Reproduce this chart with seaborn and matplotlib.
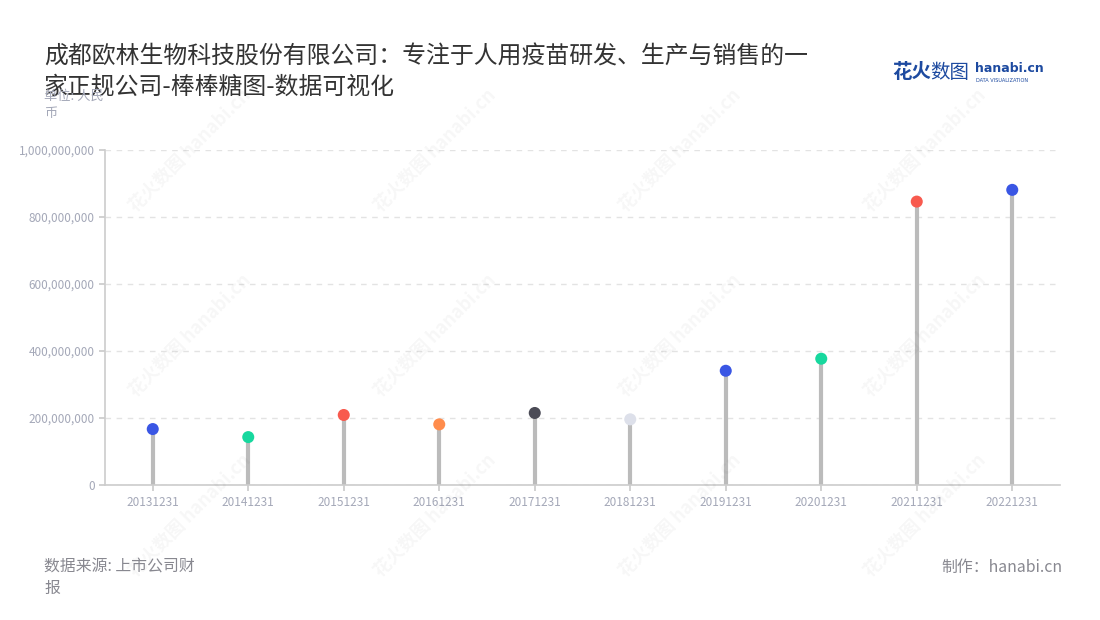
import matplotlib
matplotlib.use("Agg")
import matplotlib.pyplot as plt
import seaborn as sns
import pandas as pd

# 数据（单位：人民币）
dates = ["20131231", "20141231", "20151231", "20161231", "20171231",
         "20181231", "20191231", "20201231", "20211231", "20221231"]
values = [167e6, 143e6, 209e6, 181e6, 215e6,
          196e6, 341e6, 377e6, 846e6, 881e6]
dot_colors = ["#3a56e4", "#17d89e", "#f85a4e", "#ff8c4c", "#4b4b56",
              "#dde0ea", "#3a56e4", "#17d89e", "#f85a4e", "#3a56e4"]
y_ticks = [0, 200e6, 400e6, 600e6, 800e6, 1000e6]

title = "成都欧林生物科技股份有限公司：专注于人用疫苗研发、生产与销售的一\n家正规公司-棒棒糖图-数据可视化"

sns.set_theme(style="white")
plt.rcParams["font.family"] = ["Noto Sans CJK SC", "DejaVu Sans"]

df = pd.DataFrame({"date": dates, "value": values})

fig = plt.figure(figsize=(11, 6.2), dpi=100, facecolor="white")
ax = fig.add_axes([105 / 1100, 1 - 485 / 620, 955 / 1100, 335 / 620])

# 水印
for wx in [190, 435, 680, 925]:
    for wy in [150, 335, 515]:
        fig.text(wx / 1100, 1 - wy / 620, "花火数图 hanabi.cn", rotation=45,
                 fontsize=13, color="#000000", alpha=0.035,
                 ha="center", va="center", fontweight="bold", zorder=0)

# 棒
ax.vlines(range(len(dates)), 0, df["value"], color="#bbbbbb", linewidth=3, zorder=2)
# 糖
sns.scatterplot(data=df, x="date", y="value", hue="date", palette=dot_colors,
                s=75, edgecolor="none", legend=False, ax=ax, zorder=3)

ax.set_xlim(-0.5, len(dates) - 0.5)
ax.set_ylim(0, 1e9)
ax.set_yticks(y_ticks)
ax.set_yticklabels([f"{int(v):,}" for v in y_ticks])
ax.set_xlabel("")
ax.set_ylabel("")
ax.yaxis.grid(True, color="#e3e3e3", linestyle=(0, (4, 4)), linewidth=1)
ax.set_axisbelow(True)
ax.patch.set_alpha(0)

for s in ["top", "right"]:
    ax.spines[s].set_visible(False)
for s in ["left", "bottom"]:
    ax.spines[s].set_color("#cccccc")
    ax.spines[s].set_linewidth(1.2)
ax.tick_params(axis="both", length=4, color="#cccccc", labelsize=8.5,
               labelcolor="#a4a8b8", left=True, bottom=True)
ax.tick_params(axis="x", pad=4)

fig.text(44 / 1100, 1 - 72 / 620, title, fontsize=17.2, color="#333333",
         va="center", linespacing=1.42)
fig.text(44 / 1100, 1 - 105 / 620, "单位: 人民\n币", fontsize=9.5, color="#a4a8b8",
         va="center", linespacing=1.4)

# logo
fig.text(892 / 1100, 1 - 73 / 620, "花火", fontsize=14, color="#1d4aa0",
         fontweight="bold", va="center")
fig.text(930 / 1100, 1 - 73 / 620, "数图", fontsize=14, color="#1d4aa0", va="center")
fig.text(975 / 1100, 1 - 69 / 620, "hanabi.cn", fontsize=9, color="#1d4aa0",
         fontweight="bold", va="center", family="DejaVu Sans")
fig.text(976 / 1100, 1 - 80 / 620, "DATA VISUALIZATION", fontsize=3.6,
         color="#1d4aa0", va="center", family="DejaVu Sans")

fig.text(44 / 1100, 1 - 578 / 620, "数据来源: 上市公司财\n报", fontsize=11.4,
         color="#888890", va="center", linespacing=1.35)
fig.text(1062 / 1100, 1 - 567 / 620, "制作：hanabi.cn", fontsize=11.4,
         color="#888890", va="center", ha="right")

fig.savefig("out.png", dpi=100, facecolor="white")
